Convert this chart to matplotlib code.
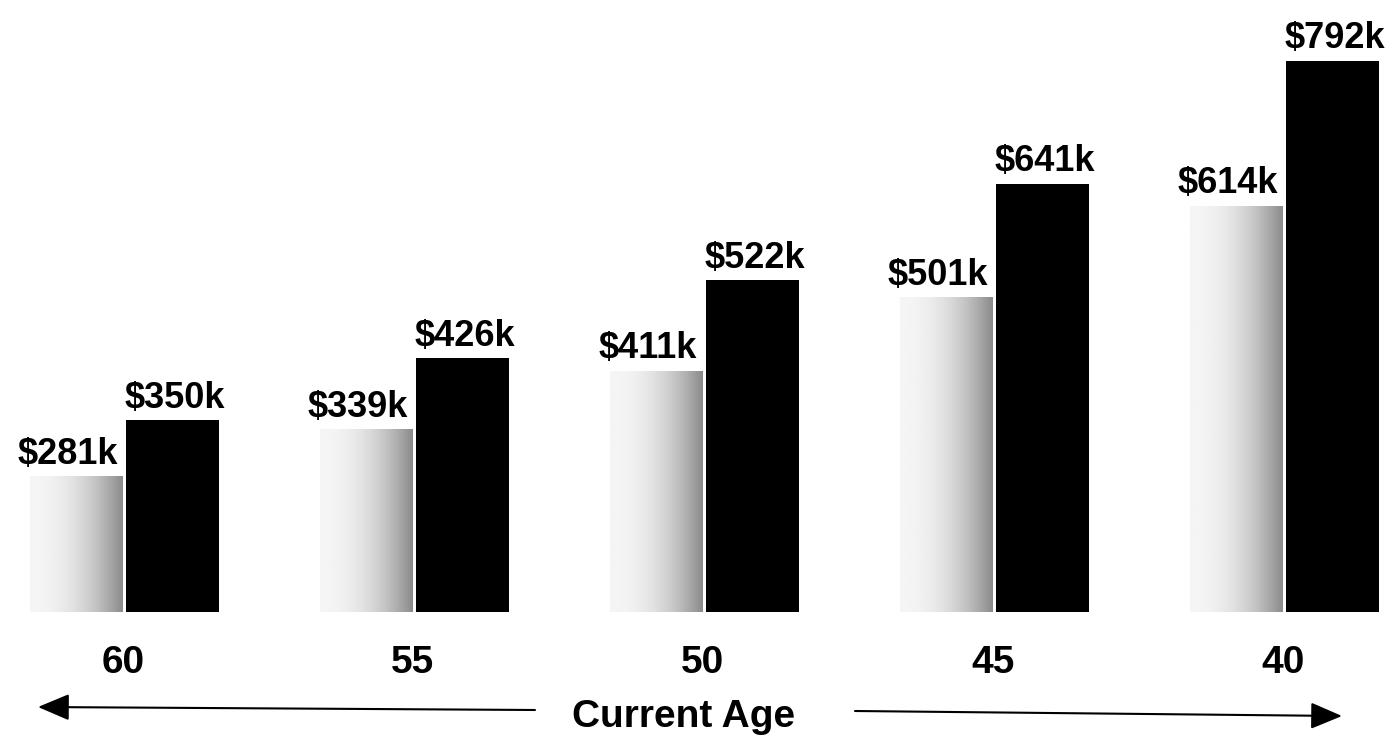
import numpy as np
import matplotlib
matplotlib.use('Agg')
import matplotlib.pyplot as plt

plt.rcParams['font.family'] = ['Liberation Sans', 'DejaVu Sans']
plt.rcParams['font.weight'] = 'bold'

# Data (values in $k)
ages = ['60', '55', '50', '45', '40']
gray_vals = [281, 339, 411, 501, 614]
black_vals = [350, 426, 522, 641, 792]

fig = plt.figure(figsize=(13.94, 7.39), dpi=100)
ax = fig.add_axes([0, 0.1719, 1, 0.8281])

x = np.arange(len(ages))
w = 0.32
ybot, ytop = 114, 867

gray_bars = ax.bar(x - w / 2, gray_vals, width=w, color='none', edgecolor='none')
black_bars = ax.bar(x + w / 2 + 0.01, black_vals, width=w, color='black', edgecolor='none')

# horizontal light-to-dark shading for the gray bars
t = np.linspace(0, 1, 256)
shade = 0.96 - 0.42 * t ** 2.2
grad = np.tile(shade, (2, 1))
for bar in gray_bars:
    x0 = bar.get_x()
    x1 = x0 + bar.get_width()
    im = ax.imshow(grad, cmap='gray', vmin=0, vmax=1, aspect='auto',
                   extent=[x0, x1, ybot, bar.get_height()], interpolation='bilinear')
    im.set_clip_path(bar)

for bar, v in zip(gray_bars, gray_vals):
    ax.annotate('$%dk' % v, (bar.get_x() + bar.get_width() / 2, v),
                xytext=(-6, 9), textcoords='offset points', ha='center', va='baseline',
                fontsize=26, fontweight='bold')
for bar, v in zip(black_bars, black_vals):
    ax.annotate('$%dk' % v, (bar.get_x() + bar.get_width() / 2, v),
                xytext=(2, 9), textcoords='offset points', ha='center', va='baseline',
                fontsize=26, fontweight='bold')

ax.set_xlim(-0.424, 4.383)
ax.set_ylim(ybot, ytop)
ax.set_xticks(x)
ax.set_xticklabels(ages, fontsize=28, fontweight='bold')
ax.tick_params(axis='x', length=0, pad=24)
ax.set_yticks([])
for s in ax.spines.values():
    s.set_visible(False)

fig.text(0.4907, 0.0162, 'Current Age', ha='center', va='baseline',
         fontsize=28, fontweight='bold')

arrow = dict(arrowstyle='-|>,head_length=1.3,head_width=0.55', color='black', lw=1.5)
fig.add_artist(matplotlib.patches.FancyArrowPatch(
    (535 / 1394, 1 - 710 / 739), (38 / 1394, 1 - 707 / 739),
    transform=fig.transFigure, mutation_scale=15, shrinkA=0, shrinkB=0, **arrow))
fig.add_artist(matplotlib.patches.FancyArrowPatch(
    (855 / 1394, 1 - 711 / 739), (1342 / 1394, 1 - 716 / 739),
    transform=fig.transFigure, mutation_scale=15, shrinkA=0, shrinkB=0, **arrow))

fig.savefig('out.png', dpi=100)
